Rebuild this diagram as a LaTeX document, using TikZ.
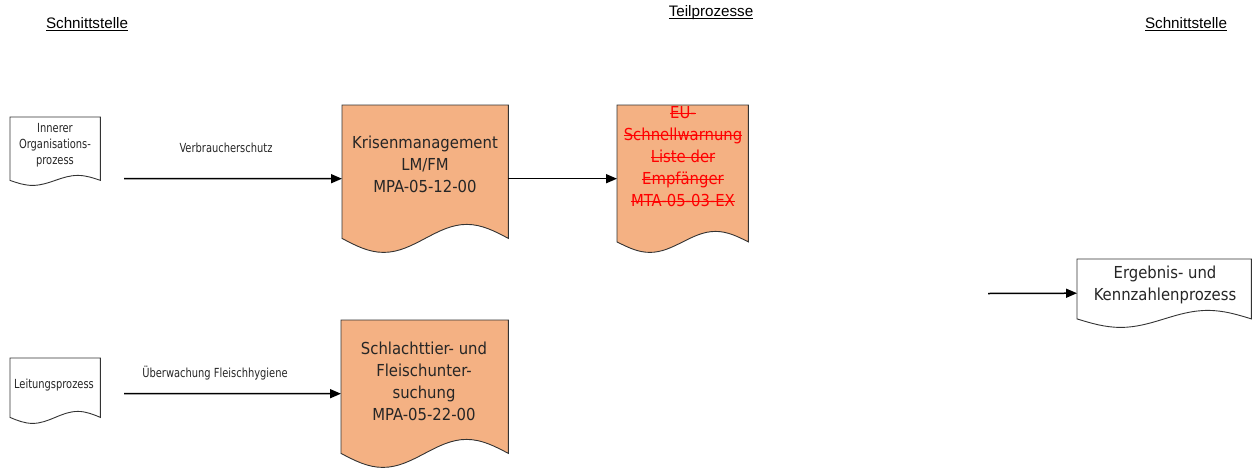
\documentclass[tikz,border=0pt]{standalone}
\usepackage{fontspec}
\setmainfont{Liberation Sans}
\newfontfamily\tahomalike{DejaVu Sans Condensed}
\newfontfamily\narrowlike[FakeStretch=0.88]{DejaVu Sans Condensed}
\usetikzlibrary{arrows.meta,calc}
\definecolor{boxfill}{RGB}{244,177,131}
\definecolor{strikered}{RGB}{255,0,0}
\newcommand{\strk}[1]{\setbox0\hbox{#1}\rlap{\copy0}\rule[0.27em]{\wd0}{0.07em}}
\newcommand{\ulin}[1]{\setbox0\hbox{#1}\rlap{\copy0}\rule[-0.17em]{\wd0}{0.07em}}
\newcommand{\docoutline}[3]{%
  \path[#3] let \p1=(#1.south west), \p2=(#1.north east), \n1={\x2-\x1} in
    (\x1,\y2) -- (\x2,\y2) -- (\x2,{\y1+#2})
    sin ({\x1+0.75*\n1},{\y1+2*#2}) cos ({\x1+0.5*\n1},{\y1+#2})
    sin ({\x1+0.25*\n1},\y1) cos (\x1,{\y1+#2}) -- cycle;}
\tikzset{
  docbox/.style={draw=none, inner sep=0pt, anchor=north west},
  procshape/.style={fill=boxfill, draw=black!80, line width=0.9pt},
  plainshape/.style={fill=white, draw=black!80, line width=0.9pt},
  flow/.style={-{Triangle[length=11pt,width=9pt]}, line width=1.5pt},
  bigtxt/.style={align=center, font=\tahomalike\fontsize{16.5}{22}\selectfont, text=black!85, inner sep=0pt},
  smalltxt/.style={align=center, font=\narrowlike\fontsize{12.5}{16}\selectfont, text=black!85, inner sep=0pt},
  headtxt/.style={anchor=base, font=\fontsize{15.2}{18}\selectfont, inner sep=0pt},
}
\begin{document}
\begin{tikzpicture}[x=1pt, y=-1pt]
\useasboundingbox (0,0) rectangle (1252,469);
% headers
\node[headtxt] (hl) at (87,28) {\ulin{Schnittstelle}};
\node[headtxt] (hm) at (711,16) {\ulin{Teilprozesse}};
\node[headtxt] (hr) at (1186,28) {\ulin{Schnittstelle}};
% shape frames
\node[docbox, minimum width=90pt, minimum height=68pt] (inner) at (10,117) {};
\node[docbox, minimum width=90pt, minimum height=65pt] (leit) at (10,358) {};
\node[docbox, minimum width=166pt, minimum height=147pt] (krisen) at (342,105) {};
\node[docbox, minimum width=131pt, minimum height=147pt] (eu) at (617,105) {};
\node[docbox, minimum width=167pt, minimum height=147pt] (schl) at (341,320) {};
\node[docbox, minimum width=174pt, minimum height=68pt] (erg) at (1077,259) {};
\docoutline{inner}{5pt}{plainshape}
\docoutline{leit}{6pt}{plainshape}
\docoutline{krisen}{14pt}{procshape}
\docoutline{eu}{10.5pt}{procshape}
\docoutline{schl}{14pt}{procshape}
\docoutline{erg}{8.5pt}{plainshape}
% texts
\node[smalltxt] (innerT) at (55,145) {Innerer\\Organisations-\\prozess};
\node[smalltxt] (leitT) at (54,385) {Leitungsprozess};
\node[bigtxt] (krisenT) at (425,164) {Krisenmanagement\\LM/FM\\MPA-05-12-00};
\node[bigtxt, text=strikered] (euT) at (683,157) {\strk{EU-}\\\strk{Schnellwarnung}\\\strk{Liste der}\\\strk{Empfänger}\\\strk{MTA-05-03-EX}};
\node[bigtxt] (schlT) at (424,381) {Schlachttier- und\\Fleischunter-\\suchung\\MPA-05-22-00};
\node[bigtxt] (ergT) at (1165,285) {Ergebnis- und\\Kennzahlenprozess};
% connectors
\coordinate (s1) at (124,178.5);
\coordinate (s2) at (124,393.5);
\coordinate (s3) at (988,293.5);
\draw[flow] (s1) -- (krisen.west);
\node[smalltxt] (l1) at (226,148) {Verbraucherschutz};
\draw[flow] (krisen.east) -- (eu.west);
\draw[flow] (s2) -- (schl.west);
\node[smalltxt] (l2) at (215,373) {Überwachung Fleischhygiene};
\draw[flow] (s3) -- (erg.west);
\end{tikzpicture}
\end{document}
